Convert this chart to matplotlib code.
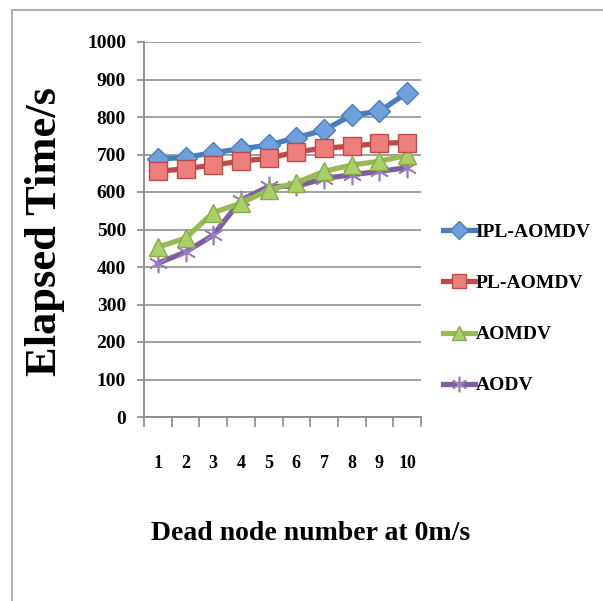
import matplotlib
matplotlib.use("Agg")
import matplotlib.pyplot as plt
from matplotlib.lines import Line2D

nodes = [1, 2, 3, 4, 5, 6, 7, 8, 9, 10]
ipl_aomdv = [688, 692, 705, 715, 725, 745, 765, 805, 815, 865]
pl_aomdv = [655, 662, 672, 682, 690, 707, 717, 722, 730, 732]
aomdv = [453, 477, 545, 570, 605, 625, 655, 672, 682, 698]
aodv = [410, 440, 485, 578, 615, 615, 636, 646, 655, 665]
y_ticks = [0, 100, 200, 300, 400, 500, 600, 700, 800, 900, 1000]

serif = "Liberation Serif"

fig = plt.figure(figsize=(6.03, 6.01), dpi=100)
ax = fig.add_axes([144 / 603, 184 / 601, 277 / 603, 375 / 601])

ax.plot(nodes, ipl_aomdv, color="#4A7EBB", lw=3.8, marker="D", ms=11,
        mfc="#6FA0DC", mec="#4A7EBB", label="IPL-AOMDV", zorder=4)
ax.plot(nodes, pl_aomdv, color="#BE4B48", lw=3.8, marker="s", ms=13,
        mfc="#EE7E7C", mec="#BE4B48", label="PL-AOMDV", zorder=5)
ax.plot(nodes, aomdv, color="#98B954", lw=3.8, marker="^", ms=13,
        mfc="#A9D16A", mec="#8AAA4A", label="AOMDV", zorder=3)
ax.plot(nodes, aodv, color="#7D5FA0", lw=3.8, marker=(6, 2, 0), ms=14,
        mew=1.2, mec="#9A7FBF", label="AODV", zorder=2)

ax.set_xlim(0.5, 10.5)
ax.set_ylim(0, 1000)
ax.set_yticks(y_ticks)
ax.set_yticklabels([str(v) for v in y_ticks], fontfamily=serif,
                   fontweight="bold", fontsize=14)
ax.set_xticks(nodes)
ax.set_xticklabels([str(n) for n in nodes], fontfamily=serif,
                   fontweight="bold", fontsize=13)
ax.set_xticks([n - 0.5 for n in nodes] + [10.5], minor=True)

ax.grid(axis="y", color="#9a9a9a", lw=1.3)
ax.set_axisbelow(True)
for s in ["top", "right"]:
    ax.spines[s].set_visible(False)
for s in ["left", "bottom"]:
    ax.spines[s].set_color("#8a8a8a")
    ax.spines[s].set_linewidth(1.3)

ax.tick_params(axis="y", length=5, width=1.2, color="#8a8a8a", pad=8)
ax.tick_params(axis="x", which="major", length=0, pad=27)
ax.tick_params(axis="x", which="minor", length=7, width=1.2, color="#8a8a8a")

fig.text(45 / 603, 1 - 232 / 601, "Elapsed Time/s", rotation=90,
         ha="center", va="center", fontfamily=serif, fontweight="bold",
         fontsize=32)
fig.text(311 / 603, 1 - 540 / 601, "Dead node number at 0m/s",
         ha="center", va="baseline", fontfamily=serif, fontweight="bold",
         fontsize=20)

fig.legend(loc="center left", bbox_to_anchor=(433 / 603, 1 - 309 / 601),
           frameon=False, prop={"family": serif, "weight": "bold", "size": 14},
           handlelength=1.65, handletextpad=0.05, labelspacing=1.72,
           borderpad=0, markerscale=0.8)

# chart border (only top and left visible)
fig.add_artist(Line2D([12 / 603, 1], [1 - 10 / 601, 1 - 10 / 601],
                      transform=fig.transFigure, color="#a6a6a6", lw=1.3))
fig.add_artist(Line2D([12 / 603, 12 / 603], [0, 1 - 10 / 601],
                      transform=fig.transFigure, color="#a6a6a6", lw=1.3))

fig.savefig("out.png", dpi=100)
